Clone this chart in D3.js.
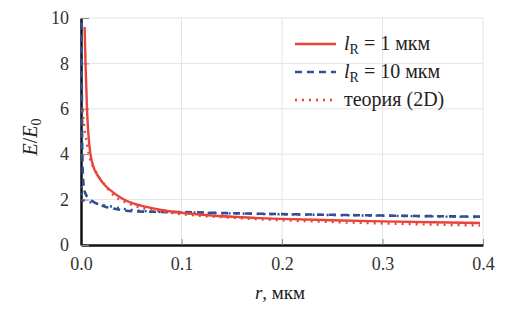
<!DOCTYPE html>
<html><head><meta charset="utf-8">
<script src="https://cdn.jsdelivr.net/npm/d3@7"></script>
</head><body style="margin:0">
<svg id="c" width="517" height="321"></svg>
<script>
// Data (x in мкм, y = E/E0)
const xTicks = [0.0, 0.1, 0.2, 0.3, 0.4];
const yTicks = [0, 2, 4, 6, 8, 10];
const lR1_x = [0.0036,0.0045,0.006,0.0075,0.0093,0.012,0.0175,0.024,0.031,0.04,0.051,0.065,0.08,0.1,0.13,0.16,0.2,0.25,0.3,0.35,0.397];
const lR1_y = [9.6,8.0,5.95,4.8,4.04,3.5,3.0,2.62,2.35,2.07,1.84,1.68,1.54,1.42,1.3,1.22,1.15,1.09,1.04,1.0,0.97];
const lR10_x = [0.0004,0.0008,0.0012,0.0018,0.003,0.0043,0.008,0.0125,0.018,0.024,0.032,0.041,0.061,0.08,0.1,0.15,0.2,0.25,0.3,0.35,0.397];
const lR10_y = [9.8,7.0,4.5,3.2,2.5,2.28,2.05,1.9,1.78,1.69,1.61,1.54,1.47,1.46,1.45,1.4,1.36,1.33,1.3,1.27,1.25];
const th1_x = [0.0016,0.003,0.0043,0.006,0.0076,0.01,0.014,0.018,0.0225,0.028,0.034,0.042,0.051,0.06,0.071,0.085,0.1,0.15,0.2,0.25,0.3,0.35,0.397];
const th1_y = [5.95,5.3,4.9,4.45,4.04,3.65,3.3,2.98,2.72,2.4,2.13,1.93,1.76,1.64,1.54,1.44,1.36,1.2,1.09,1.01,0.95,0.9,0.86];
const th10_x = [0.0008,0.001,0.002,0.006,0.014,0.022,0.031,0.04,0.051,0.061,0.071,0.085,0.1,0.15,0.2,0.25,0.3,0.35,0.397];
const th10_y = [2.6,2.1,1.98,1.92,1.84,1.76,1.69,1.61,1.54,1.5,1.47,1.45,1.44,1.39,1.35,1.32,1.29,1.26,1.23];
const legendLabels = ["= 1 мкм", "= 10 мкм", "теория (2D)"];

const RED = "#e8443a", BLUE = "#2f4f96";
const svg = d3.select("#c");
const L = 81, R = 483, T = 18, B = 245;
const x = d3.scaleLinear().domain([0, 0.4]).range([L, R]);
const y = d3.scaleLinear().domain([0, 10]).range([B, T]);
const F = "Liberation Serif";
const setFont = (sel, size) => sel.style("font-family", `"${F}", monospace`).style("font-size", size + "px");

// grid
svg.append("g").selectAll("line").data(yTicks.slice(1)).join("line")
  .attr("x1", L).attr("x2", R).attr("y1", d => y(d)).attr("y2", d => y(d))
  .attr("stroke", "#e4e4e4").attr("stroke-width", 1);
svg.append("g").selectAll("line").data(xTicks.slice(1)).join("line")
  .attr("x1", d => x(d)).attr("x2", d => x(d)).attr("y1", T).attr("y2", B)
  .attr("stroke", "#e4e4e4").attr("stroke-width", 1);

// axes
const xAxis = svg.append("g").attr("transform", `translate(0,${B})`)
  .call(d3.axisBottom(x).tickValues(xTicks).tickFormat(d3.format(".1f")).tickSizeInner(-6).tickSizeOuter(0).tickPadding(12));
xAxis.select(".domain").attr("stroke", "#111").attr("stroke-width", 2.5);
xAxis.selectAll(".tick line").attr("stroke", "#888");
setFont(xAxis.selectAll("text"), 18).attr("fill", "#333");
const yAxis = svg.append("g").attr("transform", `translate(${L},0)`)
  .call(d3.axisLeft(y).tickValues(yTicks).tickSizeInner(-8).tickSizeOuter(0).tickPadding(12));
yAxis.select(".domain").attr("stroke", "#111").attr("stroke-width", 2.5);
yAxis.selectAll(".tick line").attr("stroke", "#888");
setFont(yAxis.selectAll("text"), 18).attr("fill", "#333");

// series
const line = d3.line().x(d => x(d[0])).y(d => y(d[1])).curve(d3.curveMonotoneX);
const zip = (a, b) => a.map((v, i) => [v, b[i]]);
const series = [
  {d: zip(th10_x, th10_y), c: BLUE, w: 2.4, dash: "2,5"},
  {d: zip(lR10_x, lR10_y), c: BLUE, w: 2.6, dash: "7,5"},
  {d: zip(th1_x, th1_y), c: RED, w: 2.4, dash: "2,5"},
  {d: zip(lR1_x, lR1_y), c: RED, w: 2.4, dash: null}
];
svg.append("g").selectAll("path").data(series).join("path")
  .attr("d", s => line(s.d)).attr("fill", "none")
  .attr("stroke", s => s.c).attr("stroke-width", s => s.w)
  .attr("stroke-dasharray", s => s.dash);

// legend
const leg = [
  {c: RED, dash: null, sub: true, t: legendLabels[0]},
  {c: BLUE, dash: "7,5", sub: true, t: legendLabels[1]},
  {c: RED, dash: "2,5", sub: false, t: legendLabels[2]}
];
leg.forEach((e, i) => {
  const yy = 44 + i * 28;
  svg.append("line").attr("x1", 295).attr("x2", 336).attr("y1", yy).attr("y2", yy)
    .attr("stroke", e.c).attr("stroke-width", 2.5).attr("stroke-dasharray", e.dash);
  const t = setFont(svg.append("text").attr("x", 344).attr("y", yy + 6), 20).attr("fill", "#222");
  if (e.sub) {
    t.append("tspan").style("font-style", "italic").text("l");
    t.append("tspan").style("font-size", "14px").attr("dy", 4).text("R");
    t.append("tspan").attr("dy", -4).text(" " + e.t);
  } else {
    t.text(e.t);
  }
});

// axis titles
const yt = setFont(svg.append("text").attr("transform", "translate(37,137) rotate(-90)")
  .attr("text-anchor", "middle"), 20).attr("fill", "#222");
yt.append("tspan").style("font-style", "italic").text("E");
yt.append("tspan").text("/");
yt.append("tspan").style("font-style", "italic").text("E");
yt.append("tspan").style("font-size", "14px").attr("dy", 4).text("0");
const xt = setFont(svg.append("text").attr("x", 280).attr("y", 299)
  .attr("text-anchor", "middle"), 19).attr("fill", "#222");
xt.append("tspan").style("font-style", "italic").text("r");
xt.append("tspan").text(", мкм");
</script>
</body></html>
